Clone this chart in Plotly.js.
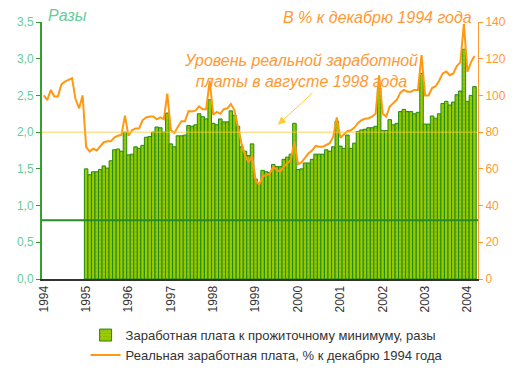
<!DOCTYPE html>
<html><head><meta charset="utf-8">
<script src="https://cdn.plot.ly/plotly-3.0.1.min.js"></script>
<style>html,body{margin:0;padding:0;background:#fff;}#chart{width:520px;height:375px;}</style>
</head><body><div id="chart"></div>
<script>
// Years shown on the x axis (tick at January of each year)
var yearLabels = ['1994','1995','1996','1997','1998','1999','2000','2001','2002','2003','2004'];
// Left axis tick labels (ratio, comma decimal)
var leftTickVals = [0, 0.5, 1, 1.5, 2, 2.5, 3, 3.5];
var leftTickText = ['0,0','0,5','1,0','1,5','2,0','2,5','3,0','3,5'];
var rightTickVals = [0, 20, 40, 60, 80, 100, 120, 140];

// Wage to subsistence minimum ratio, monthly Jan 1995 .. Mar 2004
var wageRatio = [
  1.50,1.42,1.46,1.46,1.49,1.54,1.51,1.61,1.76,1.77,1.74,2.00,
  1.69,1.70,1.80,1.78,1.82,1.93,1.94,2.00,2.07,2.06,2.00,2.26,
  1.84,1.80,1.95,1.95,1.96,2.09,2.08,2.10,2.25,2.21,2.18,2.44,
  2.12,2.10,2.18,2.14,2.14,2.29,2.23,2.08,1.80,1.74,1.68,1.84,
  1.36,1.30,1.48,1.46,1.45,1.56,1.53,1.53,1.63,1.66,1.70,2.12,
  1.49,1.50,1.58,1.58,1.63,1.70,1.70,1.70,1.76,1.74,1.80,2.15,
  1.81,1.78,1.96,1.78,1.85,2.01,2.03,2.04,2.06,2.06,2.08,2.60,
  2.02,2.02,2.17,2.10,2.12,2.28,2.31,2.28,2.28,2.25,2.27,2.80,
  2.11,2.11,2.22,2.19,2.25,2.39,2.42,2.37,2.41,2.51,2.56,3.13,
  2.42,2.50,2.62
];
// Real wage, % of December 1994, monthly Jan 1994 .. Mar 2004
var realWage = [
  100,97.5,103,99.4,99.4,106,107.6,108.5,109.4,98,93,100,
  72,69.4,71,70,72,74.5,75,75,77,78,78.5,89,
  78,81,82,82,86.5,88,88.5,88.5,87,88,87,101,
  81,79.5,83,86,86,91.5,91.2,91.8,94,92.5,92.5,108,
  89.5,91,90,92.5,93,95.3,92,82,74,67.5,63.5,67,
  54,51.3,55.8,56.7,57.3,61.2,59.4,58.5,61.2,63,64.9,75,
  62.5,63.5,66,68.5,70,72.5,72,72,73,74,77.5,88,
  77,78.5,80.5,81,82.5,85,86.5,87.3,87.6,88.5,90,111,
  90,88.5,94,95.8,97.6,101.5,103,102,102,103,103,122,
  100,100,104,105,108,112,113,111,112,116,118,139,
  113,118,121.5
];
var subsistenceLevel = 0.8;   // green reference line (ratio)
var aug1998Level = 80;        // real wage level in Aug 1998 (% of Dec 1994)

var barStart = 12; // Jan 1995 index in the monthly sequence starting Jan 1994
var xBars = wageRatio.map(function(_, i){ return barStart + i; });
var xLine = realWage.map(function(_, i){ return i; });
var tickPos = yearLabels.map(function(_, i){ return i * 12; });

var font = 'Liberation Sans, Arial, sans-serif';

var traces = [
  {
    type: 'bar', x: xBars, y: wageRatio, yaxis: 'y',
    name: 'Заработная плата к прожиточному минимуму, разы',
    marker: {color: '#99cc00', line: {color: '#1f8a14', width: 1},
             pattern: {shape: '.', fillmode: 'overlay', fgcolor: '#6a5a6a', size: 4, solidity: 0.1}},
    hoverinfo: 'skip'
  },
  {
    type: 'scatter', mode: 'lines', x: xLine, y: realWage, yaxis: 'y2',
    name: 'Реальная заработная плата, % к декабрю 1994 года',
    line: {color: '#ff9911', width: 2},
    hoverinfo: 'skip'
  }
];

var layout = {
  width: 520, height: 375,
  margin: {l: 42, r: 42, t: 22, b: 96, autoexpand: false},
  paper_bgcolor: '#ffffff', plot_bgcolor: '#ffffff',
  font: {family: font, size: 12, color: '#333333'},
  bargap: 0.0,
  showlegend: true,
  legend: {x: 0.10, xanchor: 'left', y: -0.16, yanchor: 'top', orientation: 'v',
           font: {family: font, size: 13, color: '#333333'}, bgcolor: 'rgba(0,0,0,0)',
           traceorder: 'normal'},
  xaxis: {
    range: [-0.5, 123], tickmode: 'array', tickvals: tickPos, ticktext: yearLabels,
    tickangle: -90, ticks: '', showgrid: false, zeroline: false,
    showline: true, linecolor: '#333333', linewidth: 2,
    tickfont: {family: font, size: 12, color: '#333333'}
  },
  yaxis: {
    range: [0, 3.5], tickmode: 'array', tickvals: leftTickVals, ticktext: leftTickText,
    showgrid: false, zeroline: false, showline: true, linecolor: '#33a02c', linewidth: 2,
    ticks: 'outside', ticklen: 4, tickcolor: '#33a02c', tickwidth: 1,
    tickfont: {family: font, size: 12, color: '#66cc99'}
  },
  yaxis2: {
    range: [0, 140], overlaying: 'y', side: 'right', tickmode: 'array', tickvals: rightTickVals,
    showgrid: false, zeroline: false, showline: true, linecolor: '#ff9933', linewidth: 1,
    ticks: 'outside', ticklen: 4, tickcolor: '#ff9933',
    tickfont: {family: font, size: 12, color: '#ff9933'}
  },
  shapes: [
    {type: 'line', xref: 'paper', x0: 0, x1: 1, yref: 'y', y0: subsistenceLevel, y1: subsistenceLevel,
     line: {color: '#2a8a2a', width: 2}, layer: 'above'},
    {type: 'line', xref: 'paper', x0: 0, x1: 1, yref: 'y2', y0: aug1998Level, y1: aug1998Level,
     line: {color: '#ffcc33', width: 1}, layer: 'above', opacity: 0.85}
  ],
  annotations: [
    {xref: 'paper', yref: 'paper', x: 0.01, y: 0.985, xanchor: 'left', yanchor: 'bottom',
     text: '<i>Разы</i>', showarrow: false, font: {family: font, size: 16, color: '#66cc99'}},
    {xref: 'paper', yref: 'paper', x: 0.99, y: 0.975, xanchor: 'right', yanchor: 'bottom',
     text: '<i>В % к декабрю 1994 года</i>', showarrow: false, font: {family: font, size: 16, color: '#ff9933'}},
    {xref: 'paper', yref: 'paper', x: 0.594, y: 0.89, xanchor: 'center', yanchor: 'top',
     text: '<i>Уровень реальной заработной<br>платы в августе 1998 года</i>', showarrow: false,
     align: 'center', font: {family: font, size: 16, color: '#ff9933'}},
    {xref: 'paper', yref: 'paper', x: 0.541, y: 0.60, text: '', showarrow: true,
     ax: 36, ay: -33, arrowhead: 2, arrowsize: 1.6, arrowwidth: 1, arrowcolor: '#ffcc33'}
  ]
};

Plotly.newPlot('chart', traces, layout, {displayModeBar: false, staticPlot: true});
</script></body></html>
